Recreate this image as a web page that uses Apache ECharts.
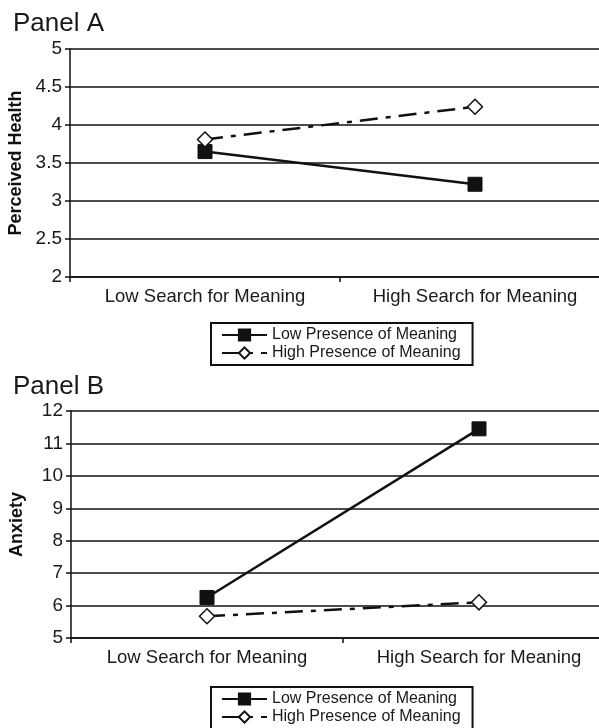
<!DOCTYPE html>
<html>
<head>
<meta charset="utf-8">
<script src="https://cdn.jsdelivr.net/npm/echarts@6/dist/echarts.min.js"></script>
<style>
  html, body { margin: 0; padding: 0; background: #fff; }
  #main { width: 599px; height: 728px; }
</style>
</head>
<body>
<div id="main"></div>
<script>
var categories = ['Low Search for Meaning', 'High Search for Meaning'];
var seriesNames = ['Low Presence of Meaning', 'High Presence of Meaning'];

// Panel A - Perceived Health
var healthLowPresence = [3.65, 3.22];
var healthHighPresence = [3.81, 4.24];

// Panel B - Anxiety
var anxietyLowPresence = [6.25, 11.45];
var anxietyHighPresence = [5.67, 6.1];

var font = 'Liberation Sans, Arial, sans-serif';
var ink = '#111';

var dom = document.getElementById('main');
var myChart = echarts.init(dom);

function xAxisFor(gridIndex) {
    return {
        type: 'category',
        gridIndex: gridIndex,
        data: categories,
        axisLine: { lineStyle: { color: ink, width: 1.5 } },
        axisTick: { show: true, length: 5, lineStyle: { color: ink, width: 1.5 } },
        axisLabel: { color: '#1a1a1a', fontSize: 18.5, fontFamily: font, margin: 10, interval: 0 },
        splitLine: { show: false }
    };
}

function yAxisFor(gridIndex, name, min, max, interval) {
    return {
        type: 'value',
        gridIndex: gridIndex,
        name: name,
        nameLocation: 'middle',
        nameRotate: 90,
        nameGap: 45,
        nameTextStyle: { color: ink, fontSize: 18, fontWeight: 'bold', fontFamily: font },
        min: min,
        max: max,
        interval: interval,
        axisLine: { show: true, lineStyle: { color: ink, width: 1.5 } },
        axisTick: { show: true, length: 5, lineStyle: { color: ink, width: 1.5 } },
        axisLabel: { color: '#1a1a1a', fontSize: 19, fontFamily: font, margin: 8 },
        splitLine: { show: true, lineStyle: { color: ink, width: 1.5 } }
    };
}

function lowSeries(idx, data) {
    return {
        name: seriesNames[0],
        type: 'line',
        xAxisIndex: idx,
        yAxisIndex: idx,
        data: data,
        symbol: 'rect',
        symbolSize: 14,
        lineStyle: { color: ink, width: 2.5, type: 'solid' },
        itemStyle: { color: ink, borderColor: ink, borderWidth: 1 },
        z: 3
    };
}

function highSeries(idx, data) {
    return {
        name: seriesNames[1],
        type: 'line',
        xAxisIndex: idx,
        yAxisIndex: idx,
        data: data,
        symbol: 'diamond',
        symbolSize: 15,
        lineStyle: { color: ink, width: 2.5, type: [18, 8, 5, 8] },
        itemStyle: { color: '#fff', borderColor: ink, borderWidth: 1.5 },
        z: 3
    };
}

function legendFor(top) {
    return {
        left: 211,
        top: top,
        height: 60,
        orient: 'vertical',
        data: seriesNames,
        itemWidth: 45,
        itemHeight: 14,
        itemGap: 2,
        padding: [4, 12, 4, 10],
        borderColor: ink,
        borderWidth: 2,
        borderRadius: 0,
        selectedMode: false,
        textStyle: { color: '#1a1a1a', fontSize: 16, fontFamily: font }
    };
}

option = {
    backgroundColor: '#fff',
    animation: false,
    title: [
        { text: 'Panel A', left: 8, top: 6, textStyle: { color: '#1a1a1a', fontSize: 26, fontWeight: 'normal', fontFamily: font } },
        { text: 'Panel B', left: 8, top: 369, textStyle: { color: '#1a1a1a', fontSize: 26, fontWeight: 'normal', fontFamily: font } }
    ],
    grid: [
        { left: 70, top: 49, width: 540, height: 228, outerBoundsMode: 'none' },
        { left: 71, top: 411, width: 544, height: 227, outerBoundsMode: 'none' }
    ],
    legend: [
        legendFor(323),
        legendFor(687)
    ],
    xAxis: [xAxisFor(0), xAxisFor(1)],
    yAxis: [
        yAxisFor(0, 'Perceived Health', 2, 5, 0.5),
        yAxisFor(1, 'Anxiety', 5, 12, 1)
    ],
    series: [
        lowSeries(0, healthLowPresence),
        highSeries(0, healthHighPresence),
        lowSeries(1, anxietyLowPresence),
        highSeries(1, anxietyHighPresence)
    ]
};

myChart.setOption(option);
</script>
</body>
</html>
